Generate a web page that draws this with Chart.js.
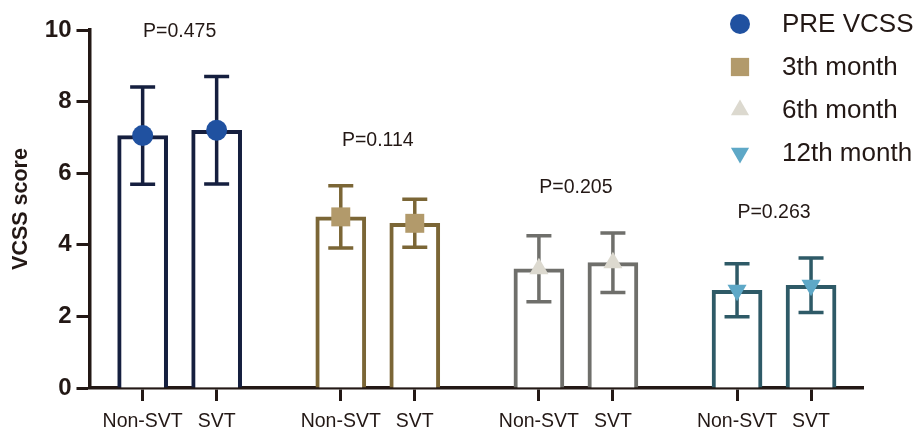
<!DOCTYPE html>
<html>
<head>
<meta charset="utf-8">
<script src="https://cdn.jsdelivr.net/npm/chart.js@4/dist/chart.umd.min.js"></script>
<style>
html, body { margin: 0; padding: 0; background: #fff; }
#wrap { width: 919px; height: 427px; position: relative; }
</style>
</head>
<body>
<div id="wrap"><canvas id="vcss-chart"></canvas></div>
<script>
// data
var groups = ['PRE VCSS', '3th month', '6th month', '12th month'];
var xLabels = ['Non-SVT', 'SVT'];
var nonSvtMean = [7.05, 4.78, 3.33, 2.73];
var nonSvtErr = [1.36, 0.87, 0.92, 0.74];
var svtMean = [7.2, 4.6, 3.5, 2.87];
var svtErr = [1.5, 0.67, 0.83, 0.76];
var pValues = ['P=0.475', 'P=0.114', 'P=0.205', 'P=0.263'];

var ink = '#231815';
var borderColors = ['#151f3f', '#7b6636', '#6f6f6b', '#2e5a67'];
var markerColors = ['#2051a0', '#b29a6b', '#dcd9cf', '#5ea8c7'];
var markerStyles = ['circle', 'rect', 'triangle', 'triangle'];
var markerRot = [0, 0, 0, 180];
var markerRadius = [10.5, 13.4, 11, 11];
var catPct = 0.747;

Chart.defaults.font.family = "'Liberation Sans', Arial, Helvetica, sans-serif";
Chart.defaults.color = ink;

function toPoints(arr){
  return arr.map(function(v, i){ return { x: i, y: v }; });
}

function drawMarker(ctx, i, x, y, r){
  ctx.save();
  ctx.fillStyle = markerColors[i];
  Chart.helpers.drawPoint(ctx, {
    pointStyle: markerStyles[i],
    radius: r,
    rotation: markerRot[i],
    borderWidth: 0
  }, x, y);
  ctx.restore();
}

var errorBars = {
  id: 'errorBars',
  afterDatasetsDraw: function(chart){
    var ctx = chart.ctx;
    var yScale = chart.scales.y;
    var xScale = chart.scales.x;
    var tops = [];
    chart.data.datasets.forEach(function(ds, di){
      var meta = chart.getDatasetMeta(di);
      meta.data.forEach(function(bar, i){
        var m = ds.data[i].y;
        var e = ds.errors[i];
        var yt = yScale.getPixelForValue(m + e);
        var yb = yScale.getPixelForValue(m - e);
        tops[i] = tops[i] === undefined ? yt : Math.min(tops[i], yt);
        ctx.save();
        ctx.strokeStyle = borderColors[i];
        ctx.lineWidth = 3.5;
        ctx.beginPath();
        ctx.moveTo(bar.x, yt); ctx.lineTo(bar.x, yb);
        ctx.moveTo(bar.x - 12.5, yt); ctx.lineTo(bar.x + 12.5, yt);
        ctx.moveTo(bar.x - 12.5, yb); ctx.lineTo(bar.x + 12.5, yb);
        ctx.stroke();
        ctx.restore();
        drawMarker(ctx, i, bar.x, bar.y, markerRadius[i]);
      });
    });
    // p values above each pair
    ctx.save();
    ctx.font = "19.5px 'Liberation Sans', Arial, sans-serif";
    ctx.fillStyle = ink;
    ctx.textAlign = 'center';
    ctx.textBaseline = 'middle';
    pValues.forEach(function(p, i){
      ctx.fillText(p, xScale.getPixelForValue(i), tops[i] - 45);
    });
    ctx.restore();
  },
  afterDraw: function(chart){
    // legend in the top right corner
    var ctx = chart.ctx;
    ctx.save();
    ctx.font = "26px 'Liberation Sans', Arial, sans-serif";
    ctx.textAlign = 'left';
    ctx.textBaseline = 'middle';
    groups.forEach(function(g, i){
      var y = 24 + i * 43;
      drawMarker(ctx, i, 740, y, markerRadius[i] - 0.5);
      ctx.fillStyle = ink;
      ctx.fillText(g, 782, y + 1);
    });
    ctx.restore();
  }
};

var ctx = document.getElementById('vcss-chart').getContext('2d');
var myChart = new Chart(ctx, {
  type: 'bar',
  data: {
    datasets: [
      {
        label: xLabels[0],
        data: toPoints(nonSvtMean),
        errors: nonSvtErr,
        backgroundColor: '#ffffff',
        borderColor: borderColors,
        borderWidth: 4,
        barThickness: 'flex',
        categoryPercentage: catPct,
        barPercentage: 0.676
      },
      {
        label: xLabels[1],
        data: toPoints(svtMean),
        errors: svtErr,
        backgroundColor: '#ffffff',
        borderColor: borderColors,
        borderWidth: 4,
        barThickness: 'flex',
        categoryPercentage: catPct,
        barPercentage: 0.676
      }
    ]
  },
  options: {
    responsive: true,
    maintainAspectRatio: false,
    animation: false,
    layout: {
      padding: { left: 4, right: 56, top: 30, bottom: 0 }
    },
    scales: {
      x: {
        type: 'linear',
        offset: false,
        min: -0.455,
        max: 3.449,
        afterBuildTicks: function(scale){
          var t = [];
          groups.forEach(function(g, i){
            t.push({ value: i - catPct / 4 });
            t.push({ value: i + catPct / 4 });
          });
          scale.ticks = t;
        },
        afterFit: function(scale){
          scale.height = 39;
        },
        ticks: {
          autoSkip: false,
          maxRotation: 0,
          padding: 8.5,
          color: ink,
          font: { size: 19.5 },
          callback: function(value, index){
            return xLabels[index % 2];
          }
        },
        grid: {
          offset: false,
          drawOnChartArea: false,
          tickLength: 13,
          tickWidth: 3,
          tickColor: ink
        },
        border: { display: true, color: ink, width: 3.5 }
      },
      y: {
        min: 0,
        max: 10,
        ticks: {
          stepSize: 2,
          padding: 5,
          color: ink,
          font: { size: 24, weight: 'bold' }
        },
        grid: {
          drawOnChartArea: false,
          tickLength: 13,
          tickWidth: 3,
          tickColor: ink
        },
        border: { display: true, color: ink, width: 3.5 },
        title: {
          display: true,
          text: 'VCSS score',
          color: ink,
          font: { size: 21.5, weight: 'bold' },
          padding: { top: 4, bottom: 6 }
        }
      }
    },
    plugins: {
      legend: { display: false },
      tooltip: { enabled: false }
    }
  },
  plugins: [errorBars]
});
</script>
</body>
</html>
